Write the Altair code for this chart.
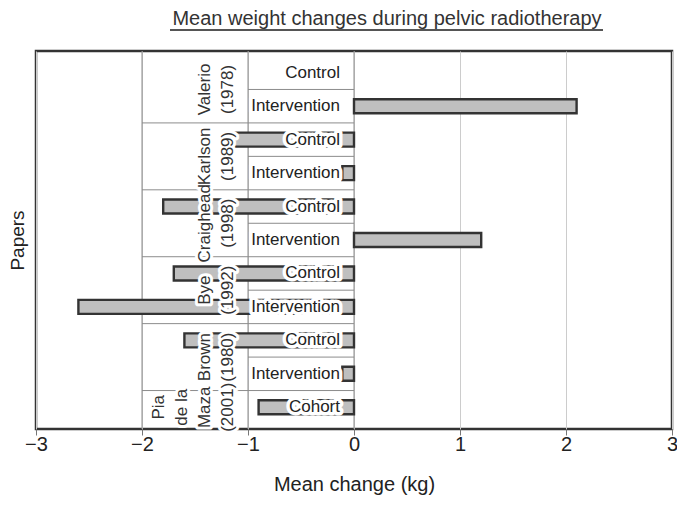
import altair as alt
import pandas as pd

TITLE = "Mean weight changes during pelvic radiotherapy"
X_TITLE = "Mean change (kg)"
Y_TITLE = "Papers"

papers = [
    "Valerio\n(1978)", "Valerio\n(1978)",
    "Karlson\n(1989)", "Karlson\n(1989)",
    "Craighead\n(1998)", "Craighead\n(1998)",
    "Bye\n(1992)", "Bye\n(1992)",
    "Brown\n(1980)", "Brown\n(1980)",
    "Pia\nde la\nMaza\n(2001)",
]
groups = [
    "Control", "Intervention",
    "Control", "Intervention",
    "Control", "Intervention",
    "Control", "Intervention",
    "Control", "Intervention",
    "Cohort",
]
changes = [None, 2.1, -1.2, -0.11, -1.8, 1.2, -1.7, -2.6, -1.6, -0.11, -0.9]
x_ticks = [-3, -2, -1, 0, 1, 2, 3]

# table layout constants (styles, not data)
PAPER_COL = -2
GROUP_COL = -1
ZERO = 0
PAPER_ANCHOR = -1.14
LINE_H = 23
FONT = "Liberation Sans"
W, H = 636, 378

rows = list(range(len(groups)))
df = pd.DataFrame({"row": rows, "paper": papers, "group": groups, "change": changes})

sep_rows = []
for i in rows[1:]:
    sep_rows.append({"boundary": i - 0.5,
                     "start": PAPER_COL if papers[i] != papers[i - 1] else GROUP_COL})
sep_df = pd.DataFrame(sep_rows)
col_df = pd.DataFrame({"edge": [PAPER_COL, GROUP_COL, ZERO]})

xscale = alt.Scale(domain=[x_ticks[0], x_ticks[-1]], nice=False, zero=False)
yscale = alt.Scale(domain=[-0.5, len(rows) - 0.5], reverse=True, nice=False, zero=False)

xaxis = alt.Axis(values=x_ticks, title=X_TITLE, grid=True, gridColor="#cccccc",
                 domain=False, ticks=True, tickColor="#777777", tickSize=6,
                 labelFontSize=20, labelFont=FONT, labelColor="#222222",
                 labelPadding=-1, labelFlush=False, format="d",
                 labelExpr="replace(datum.label, '-', '\u2212')",
                 titleFontSize=20, titleFont=FONT, titleFontWeight="normal",
                 titleColor="#222222", titlePadding=20)
yaxis = alt.Axis(title=Y_TITLE, labels=False, ticks=False, domain=False, grid=False,
                 titleFontSize=19, titleFont=FONT, titleFontWeight="normal",
                 titleColor="#222222", titlePadding=9)

cols = alt.Chart(col_df).mark_rule(color="#8c8c8c", strokeWidth=1).encode(
    x=alt.X("edge:Q", scale=xscale, axis=xaxis),
    y=alt.value(0), y2=alt.value(H),
)

seps = alt.Chart(sep_df).mark_rule(color="#8c8c8c", strokeWidth=1).encode(
    x=alt.X("start:Q", scale=xscale, axis=xaxis),
    x2=alt.datum(ZERO),
    y=alt.Y("boundary:Q", scale=yscale, axis=yaxis),
)

bars = alt.Chart(df).mark_bar(orient="horizontal", size=14, fill="#bfbfbf",
                              stroke="#333333", strokeWidth=2.4).encode(
    x=alt.X("change:Q", scale=xscale, axis=xaxis),
    x2=alt.datum(0),
    y=alt.Y("row:Q", scale=yscale, axis=yaxis),
)

grp_base = alt.Chart(df).encode(
    x=alt.datum(ZERO),
    y=alt.Y("row:Q", scale=yscale, axis=yaxis),
    text="group:N",
)
grp_halo = grp_base.mark_text(align="right", baseline="middle", dx=-14, fontSize=17,
                              font=FONT, color="white", stroke="white", strokeWidth=7,
                              strokeJoin="round")
grp_text = grp_base.mark_text(align="right", baseline="middle", dx=-14, fontSize=17,
                              font=FONT, color="#222222")

pap_base = alt.Chart(df).transform_aggregate(
    ymid="mean(row)", groupby=["paper"]
).transform_calculate(
    off=f"-(length(split(datum.paper, '\\n')) - 1) * {LINE_H}"
).encode(
    x=alt.datum(PAPER_ANCHOR),
    xOffset=alt.XOffset("off:Q", scale=None),
    y=alt.Y("ymid:Q", scale=yscale, axis=yaxis),
    text="paper:N",
)
pap_halo = pap_base.mark_text(angle=270, align="center", baseline="alphabetic", fontSize=17,
                              lineHeight=LINE_H, lineBreak="\n", font=FONT, color="white",
                              stroke="white", strokeWidth=6, strokeJoin="round")
pap_text = pap_base.mark_text(angle=270, align="center", baseline="alphabetic", fontSize=17,
                              lineHeight=LINE_H, lineBreak="\n", font=FONT, color="#333333")

title_text = alt.Chart(pd.DataFrame({"t": [TITLE]})).mark_text(
    fontSize=20, font=FONT, color="#333333", baseline="middle", align="center"
).encode(text="t:N", x=alt.value(351), y=alt.value(-32))
title_line = alt.Chart(pd.DataFrame({"a": [0]})).mark_rule(
    color="#555555", strokeWidth=2
).encode(x=alt.value(134), x2=alt.value(567), y=alt.value(-21))

chart = alt.layer(
    cols, seps, bars, grp_halo, grp_text, pap_halo, pap_text, title_text, title_line
).properties(
    width=W, height=H,
    autosize=alt.AutoSizeParams(type="none"),
    padding={"left": 28, "top": 43, "right": 5, "bottom": 66},
).configure_view(stroke="#333333", strokeWidth=2.5)

chart.save("out.html", embed_options={"renderer": "svg", "actions": False})
